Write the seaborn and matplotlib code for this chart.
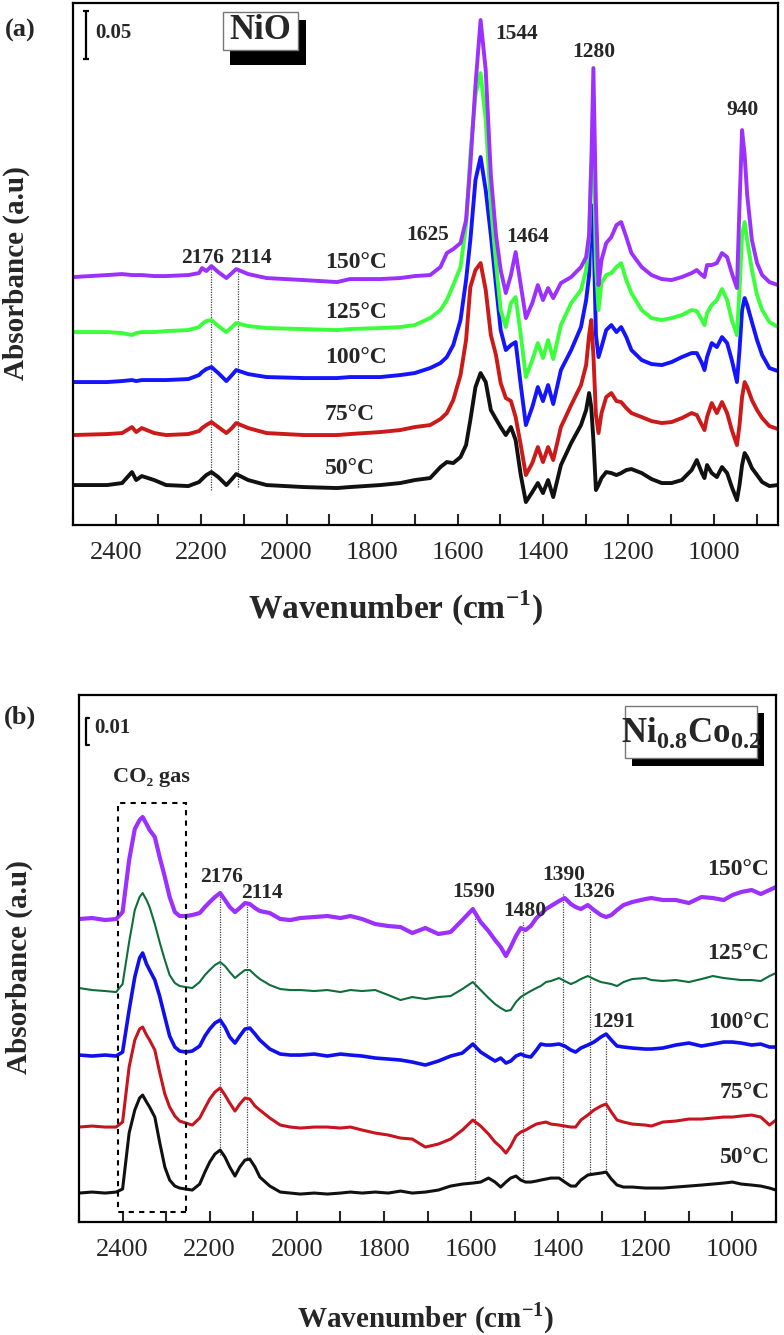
"""In-situ DRIFT spectra of NiO and Ni0.8Co0.2 at several temperatures."""
import matplotlib
matplotlib.use("Agg")
import matplotlib.pyplot as plt
from matplotlib.patches import Rectangle
from matplotlib.ticker import MultipleLocator
import pandas as pd
import seaborn as sns

TEMPS = ["50°C", "75°C", "100°C", "125°C", "150°C"]

# ---- panel (a): NiO, absorbance in arbitrary units (stacked) ----
WN_A = [
    2500, 2420, 2385, 2362, 2352, 2339, 2310, 2282,
    2230, 2205, 2198, 2188, 2176, 2160, 2141, 2128, 2118, 2090, 2047,
    1960, 1882, 1852, 1781, 1734, 1700, 1664, 1640, 1625, 1610, 1593, 1580,
    1570, 1558, 1546, 1534, 1522, 1510, 1499, 1487, 1475, 1464,
    1452, 1440, 1425, 1412, 1400, 1388, 1376, 1358, 1334, 1311,
    1299, 1292, 1287, 1282, 1276, 1270, 1263, 1252, 1240, 1228, 1217, 1205,
    1193, 1169, 1146, 1122, 1099, 1075, 1052, 1040, 1028, 1022, 1016, 1005,
    993, 981, 969, 958, 946, 940, 934, 928, 922, 911, 899, 887, 870, 850,
]
A_50 = [
    40, 40, 42, 53, 45, 49, 45, 40,
    39, 43, 46, 50, 53, 48, 40, 46, 51, 45, 40,
    38, 37, 38, 40, 42, 45, 47, 58, 63, 62, 68, 80,
    105, 138, 152, 143, 115, 106, 98, 90, 98, 85,
    50, 23, 33, 42, 32, 45, 28, 60, 82, 100,
    115, 132, 118, 85, 35, 40, 47, 53, 52, 50, 52, 55,
    56, 52, 46, 42, 42, 45, 55, 65, 52, 47, 60, 52,
    48, 58, 52, 38, 25, 40, 60, 72, 68, 57, 50, 43, 39, 40,
]
A_75 = [
    90, 91, 92, 98, 93, 97, 92, 90,
    91, 94, 97, 100, 103, 98, 92, 97, 102, 97, 92,
    90, 90, 91, 93, 95, 98, 100, 106, 112, 125, 150, 185,
    238, 255, 262, 235, 190, 170, 142, 127, 124, 108,
    80, 50, 62, 78, 63, 78, 65, 98, 120, 140,
    160, 190, 205, 170, 110, 92, 112, 128, 132, 124, 123, 117,
    112, 108, 104, 102, 103, 107, 112, 110, 100, 95, 108, 122,
    112, 123, 112, 95, 80, 100, 128, 143, 138, 125, 115, 107, 99, 96,
]
A_100 = [
    143, 143, 144, 145, 144, 145, 145, 145,
    146, 150, 153, 156, 158, 152, 144, 150, 155, 151, 148,
    147, 147, 148, 148, 150, 152, 157, 162, 168, 180, 205, 245,
    285, 345, 368, 335, 290, 240, 195, 175, 180, 183,
    140, 100, 118, 138, 124, 140, 121, 155, 175, 198,
    225, 250, 320, 300, 190, 168, 178, 195, 200, 193, 198, 188,
    175, 165, 161, 160, 163, 168, 172, 172, 162, 155, 168, 182,
    178, 188, 182, 165, 143, 175, 215, 227, 220, 203, 185, 170, 157, 154,
]
A_125 = [
    193, 193, 192, 190, 192, 193, 193, 194,
    195, 198, 201, 204, 205, 199, 193, 198, 202, 199, 197,
    196, 195, 196, 197, 198, 200, 207, 215, 225, 240, 258, 300,
    370, 430, 452, 405, 320, 262, 215, 198, 222, 228,
    190, 148, 165, 182, 167, 185, 166, 200, 222, 235,
    255, 290, 360, 385, 260, 215, 242, 250, 252, 258, 262, 245,
    232, 215, 207, 205, 207, 210, 215, 214, 205, 200, 212, 220,
    225, 236, 225, 205, 190, 235, 290, 303, 285, 255, 230, 215, 203, 198,
]
A_150 = [
    248, 250, 251, 250, 250, 250, 249, 249,
    250, 252, 257, 254, 259, 253, 247, 252, 256, 251, 247,
    245, 243, 246, 246, 247, 249, 250, 258, 272, 276, 282, 305,
    360, 440, 505, 455, 350, 290, 255, 232, 250, 273,
    240, 207, 222, 240, 225, 237, 227, 242, 248, 258,
    268, 290, 360, 457, 320, 240, 265, 282, 288, 300, 303, 288,
    272, 258, 250, 246, 245, 248, 252, 255, 250, 248, 260, 260,
    262, 272, 268, 252, 237, 320, 395, 370, 330, 285, 262, 250, 243, 240,
]

# ---- panel (b): Ni0.8Co0.2 ----
WN_B = [
    2500, 2470, 2440, 2415, 2400, 2385, 2372, 2361, 2354, 2345, 2338, 2326,
    2315, 2303, 2292, 2280, 2269, 2255,
    2240, 2223, 2211, 2200, 2188, 2176, 2165, 2154, 2142, 2131, 2119, 2108,
    2096, 2085, 2062, 2038, 2015,
    1992, 1960, 1930, 1900, 1877, 1850, 1820, 1790, 1762, 1735, 1705, 1675,
    1647, 1620, 1596,
    1578, 1560, 1545, 1532, 1520, 1509, 1497, 1486, 1475, 1463, 1450, 1440,
    1428, 1417, 1398, 1385,
    1371, 1360, 1348, 1332, 1318, 1302, 1290, 1278, 1265, 1250, 1230, 1200,
    1186, 1160, 1130, 1100,
    1071, 1045, 1020, 1000, 980, 956, 935, 915, 900,
]
B_50 = [
    29, 30, 29, 30, 33, 89, 112, 124, 127, 120, 115, 105, 80, 55, 42, 36, 34, 33,
    32, 38, 50, 60, 68, 72, 65, 55, 46, 55, 62, 63, 55, 45, 36, 30, 29,
    28, 29, 28, 29, 30, 29, 30, 29, 31, 29, 30, 32, 36, 38, 39,
    40, 44, 40, 35, 40, 44, 46, 42, 40, 40, 41, 42, 43, 44, 44, 40,
    36, 36, 42, 47, 48, 49, 50, 43, 37, 35, 35, 34, 34, 34, 35, 36,
    37, 38, 39, 40, 38, 37, 36, 34, 32,
]
B_75 = [
    95, 96, 95, 95, 100, 155, 182, 193, 195, 187, 182, 172, 150, 128, 115, 106, 101, 99,
    97, 104, 114, 123, 130, 134, 127, 119, 111, 118, 124, 123, 116, 112, 104, 97, 95,
    94, 95, 95, 94, 95, 92, 89, 87, 84, 83, 75, 78, 83, 92, 102,
    96, 88, 80, 75, 69, 76, 86, 90, 92, 95, 98, 99, 100, 98, 97, 96,
    95, 95, 102, 107, 112, 116, 118, 110, 102, 100, 98, 97, 96, 100, 101, 103,
    103, 104, 105, 105, 106, 107, 105, 97, 102,
]
B_100 = [
    167, 166, 167, 166, 170, 212, 245, 264, 269, 258, 252, 242, 226, 205, 186, 175, 171, 170,
    171, 176, 186, 193, 199, 202, 195, 185, 179, 186, 193, 194, 188, 182, 173, 168, 167,
    167, 168, 166, 168, 167, 166, 164, 163, 162, 160, 157, 161, 166, 169, 178,
    170, 165, 161, 164, 159, 161, 166, 168, 166, 165, 172, 178, 177, 177, 178, 176,
    172, 170, 174, 177, 180, 185, 188, 182, 176, 175, 174, 173, 173, 174, 177, 179,
    176, 178, 180, 180, 179, 177, 178, 175, 175,
]
B_125 = [
    234, 232, 231, 230, 238, 280, 312, 325, 329, 322, 315, 298, 280, 262, 247, 239, 236, 235,
    234, 240, 247, 252, 257, 260, 256, 250, 244, 248, 252, 252, 247, 243, 237, 233, 232,
    232, 231, 232, 230, 232, 231, 232, 227, 222, 225, 223, 225, 226, 233, 240,
    232, 224, 218, 214, 211, 212, 220, 225, 228, 231, 234, 236, 240, 241, 244, 241,
    238, 240, 243, 246, 243, 240, 239, 238, 236, 240, 243, 244, 242, 241, 242, 240,
    243, 246, 244, 243, 242, 242, 241, 246, 249,
]
B_150 = [
    303, 304, 302, 303, 310, 362, 393, 402, 405, 398, 392, 385, 365, 345, 325, 310, 306, 306,
    307, 309, 315, 320, 325, 329, 322, 315, 310, 314, 319, 318, 314, 311, 309, 303, 302,
    304, 305, 306, 304, 306, 303, 298, 296, 295, 289, 294, 288, 290, 302, 313,
    300, 291, 282, 275, 266, 275, 286, 294, 292, 296, 304, 308, 313, 316, 321, 324,
    318, 315, 313, 317, 312, 307, 305, 307, 312, 317, 320, 323, 324, 322, 322, 319,
    325, 324, 322, 327, 330, 332, 328, 332, 335,
]

# annotations: (label, wavenumber, height)
TOP_PEAKS = [("2176", 2196, 267), ("2114", 2084, 267), ("1625", 1671, 290),
             ("1544", 1461, 491), ("1464", 1435, 288), ("1280", 1282, 473),
             ("940", 934, 415)]
TOP_TEMP_Y = [57, 111, 168, 213, 263]
TOP_MARKS = [(2176, 35, 258), (2114, 38, 257)]

BOT_PEAKS = [("2176", 2172, 345), ("2114", 2080, 329), ("1590", 1594, 330),
             ("1480", 1477, 311), ("1390", 1387, 347), ("1326", 1318, 330),
             ("1291", 1272, 200)]
BOT_TEMP_Y = [65, 130, 200, 269, 353]
BOT_MARKS = [(2176, 67, 327), (2114, 62, 320), (1590, 40, 310), (1480, 44, 300),
             (1390, 42, 329), (1326, 47, 312), (1291, 50, 182)]
CO2_BAND = (2411, 2255, 10, 419)

TOP_COLORS = ["#111111", "#cc1a1a", "#1414ff", "#3cff3c", "#9b30ff"]
BOT_COLORS = ["#111111", "#c8141e", "#1010ee", "#0d6e3a", "#9b30ff"]
BOT_WIDTHS = [2.2, 2.2, 2.6, 1.5, 3.0]


def long_frame(wn, series):
    frames = [pd.DataFrame({"wavenumber": wn, "absorbance": vals, "temp": t})
              for t, vals in zip(TEMPS, series)]
    return pd.concat(frames, ignore_index=True)


def draw_traces(ax, df, colors, widths):
    for t, c, lw in zip(TEMPS, colors, widths):
        sns.lineplot(data=df[df["temp"] == t], x="wavenumber", y="absorbance",
                     color=c, linewidth=lw, estimator=None, sort=False,
                     legend=False, ax=ax)


def style_axes(ax, xlim, ylim, xlabel_size):
    ax.set_xlim(*xlim)
    ax.set_ylim(*ylim)
    ax.set_yticks([])
    ax.xaxis.set_major_locator(MultipleLocator(200))
    ax.xaxis.set_minor_locator(MultipleLocator(100))
    ax.tick_params(axis="x", which="both", direction="in", length=8, width=1.5,
                   bottom=True, top=False, pad=12, labelsize=19)
    for s in ax.spines.values():
        s.set_visible(True)
        s.set_linewidth(1.6)
        s.set_color("black")
    ax.set_ylabel("Absorbance (a.u)", fontsize=21, fontweight="bold")
    ax.set_xlabel("Wavenumber (cm$^{\\mathbf{-1}}$)", fontsize=xlabel_size,
                  fontweight="bold")


def shadow_box(ax, box, shadow, text, fontsize):
    x0, x1, y0, y1 = shadow
    ax.add_patch(Rectangle((x0, y0), x1 - x0, y1 - y0, transform=ax.transAxes,
                           facecolor="black", edgecolor="none", zorder=5))
    x0, x1, y0, y1 = box
    ax.add_patch(Rectangle((x0, y0), x1 - x0, y1 - y0, transform=ax.transAxes,
                           facecolor="white", edgecolor="#777777", lw=1.0, zorder=6))
    ax.text((x0 + x1) / 2, (y0 + y1) / 2, text, transform=ax.transAxes,
            ha="center", va="center", fontsize=fontsize, fontweight="bold", zorder=7)


sns.set_style("white")
plt.rcParams["font.family"] = ["Liberation Serif", "DejaVu Serif"]
plt.rcParams["mathtext.fontset"] = "custom"
plt.rcParams["mathtext.rm"] = "Liberation Serif"
plt.rcParams["mathtext.bf"] = "Liberation Serif:bold"

fig = plt.figure(figsize=(7.84, 13.35), dpi=100)
ax1 = fig.add_axes([0.0931, 0.6067, 0.8992, 0.3910])
ax2 = fig.add_axes([0.1008, 0.0846, 0.8890, 0.3948])

# ---------------- panel (a) ----------------
df_a = long_frame(WN_A, [A_50, A_75, A_100, A_125, A_150])
draw_traces(ax1, df_a, TOP_COLORS, [2.8] * 5)
style_axes(ax1, (2500, 850), (0, 522), 24)
ax1.xaxis.set_label_coords(0.457, -0.122)
ax1.yaxis.set_label_coords(-0.061, 0.483)

for wn, lo, hi in TOP_MARKS:
    ax1.vlines(wn, lo, hi, colors="#444444", linestyles=(0, (1, 1)), lw=0.9, zorder=1)
for lab, wn, h in TOP_PEAKS:
    ax1.text(wn, h, lab, ha="center", va="center", fontsize=15.5, fontweight="bold")
for t, h in zip(TEMPS, TOP_TEMP_Y):
    ax1.text(1910, h, t, ha="left", va="center", fontsize=17, fontweight="bold")

ax1.errorbar([2470], [490], yerr=[24], fmt="none", ecolor="black",
             elinewidth=1.6, capsize=2.5, capthick=1.6)
ax1.text(2449, 492, "0.05", ha="left", va="center", fontsize=15, fontweight="bold")
shadow_box(ax1, (0.213, 0.319, 0.910, 0.983), (0.223, 0.330, 0.881, 0.967), "NiO", 25)

# ---------------- panel (b) ----------------
df_b = long_frame(WN_B, [B_50, B_75, B_100, B_125, B_150])
draw_traces(ax2, df_b, BOT_COLORS, BOT_WIDTHS)
style_axes(ax2, (2500, 900), (0, 527), 21)
ax2.xaxis.set_label_coords(0.498, -0.148)
ax2.yaxis.set_label_coords(-0.066, 0.484)

for wn, lo, hi in BOT_MARKS:
    ax2.vlines(wn, lo, hi, colors="#444444", linestyles=(0, (1, 1)), lw=0.9, zorder=1)
for lab, wn, h in BOT_PEAKS:
    ax2.text(wn, h, lab, ha="center", va="center", fontsize=15.5, fontweight="bold")
for t, h in zip(TEMPS, BOT_TEMP_Y):
    ax2.text(915, h, t, ha="right", va="center", fontsize=17, fontweight="bold")

w_left, w_right, lo, hi = CO2_BAND
ax2.add_patch(Rectangle((w_right, lo), w_left - w_right, hi - lo, fill=False,
                        edgecolor="black", lw=1.5, linestyle=(0, (2.5, 2.5)), zorder=2))
ax2.text((w_left + w_right) / 2, 445, "CO₂ gas", ha="center", va="center",
         fontsize=16, fontweight="bold")

SCALE_B = {"wn": 2483, "base": 477, "length": 27, "cap": 7}
sb = SCALE_B
ax2.plot([sb["wn"] - sb["cap"], sb["wn"], sb["wn"], sb["wn"] - sb["cap"]],
         [sb["base"] + sb["length"], sb["base"] + sb["length"], sb["base"], sb["base"]],
         color="black", lw=1.6)
ax2.text(2464, 494, "0.01", ha="left", va="center", fontsize=15, fontweight="bold")
shadow_box(ax2, (0.783, 0.973, 0.880, 0.979), (0.793, 0.983, 0.865, 0.966),
           "$\\mathbf{Ni}_{\\mathbf{0.8}}\\mathbf{Co}_{\\mathbf{0.2}}$", 25)

fig.text(0.0255, 0.9775, "(a)", ha="center", va="center", fontsize=19, fontweight="bold")
fig.text(0.0255, 0.463, "(b)", ha="center", va="center", fontsize=19, fontweight="bold")

fig.savefig("out.png", dpi=100)
plt.close(fig)
